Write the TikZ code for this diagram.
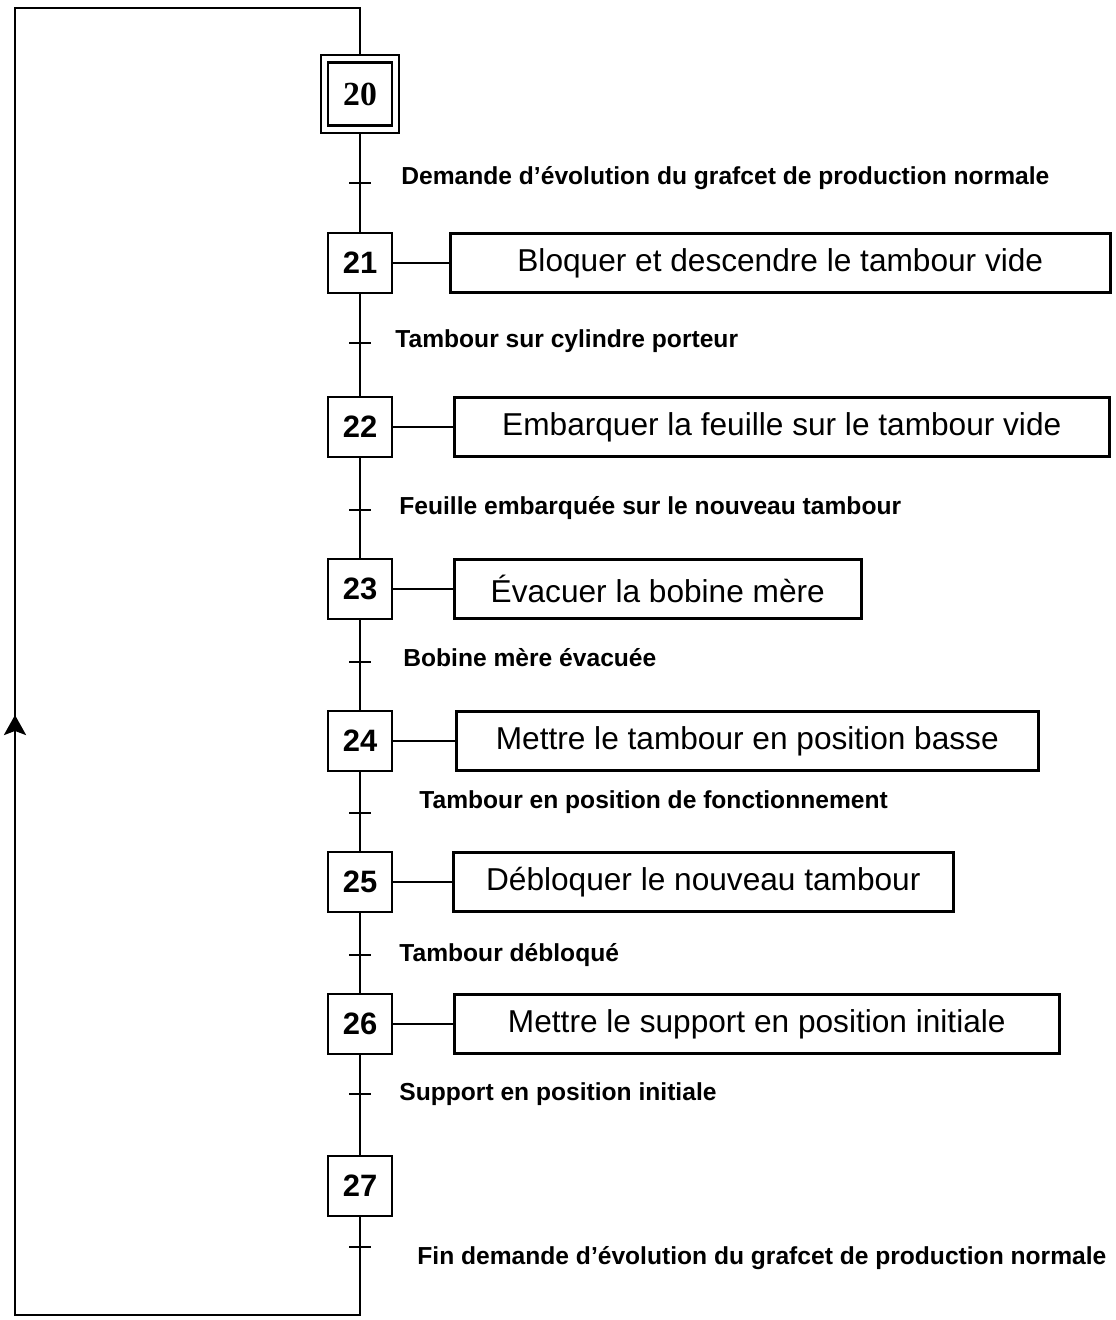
\documentclass[tikz,border=0pt]{standalone}
\usepackage{fontspec}
\setmainfont{Liberation Sans}
\newfontfamily\timesnum{Liberation Serif}
\usetikzlibrary{arrows.meta}

\tikzset{
  etape/.style={draw,line width=2pt,minimum width=1.6cm,minimum height=1.5cm,inner sep=0pt,font=\fontsize{22}{24}\selectfont\bfseries},
  action/.style={draw,line width=1.8pt,minimum height=1.48cm,inner sep=0pt,anchor=west,font=\fontsize{22.5}{25}\selectfont},
  recept/.style={anchor=west,inner sep=0pt,font=\fontsize{17.5}{19}\selectfont\bfseries}
}

\begin{document}
\begin{tikzpicture}[line width=2pt,>={Stealth[length=5mm,width=5.5mm,inset=1mm]}]
\useasboundingbox (0,0) rectangle (27.875,33);
% etapes
\node[etape,minimum width=1.6cm,minimum height=1.58cm,font=\fontsize{24}{26}\selectfont\timesnum\bfseries] (s20) at (9,30.65) {20};
\node[draw,line width=1.2pt,minimum size=1.95cm] (s20o) at (9,30.65) {};
\node[etape] (s21) at (9,26.425) {21};
\node[etape] (s22) at (9,22.325) {22};
\node[etape] (s23) at (9,18.275) {23};
\node[etape] (s24) at (9,14.475) {24};
\node[etape] (s25) at (9,10.95) {25};
\node[etape] (s26) at (9,7.4) {26};
\node[etape] (s27) at (9,3.35) {27};
% actions
\node[action,minimum width=16.5cm] (a21) at (11.225,26.425) {Bloquer et descendre le tambour vide};
\node[action,minimum width=16.375cm] (a22) at (11.325,22.325) {Embarquer la feuille sur le tambour vide};
\node[action,minimum width=10.175cm] (a23) at (11.325,18.275) {Évacuer la bobine mère};
\node[action,minimum width=14.55cm] (a24) at (11.375,14.475) {Mettre le tambour en position basse};
\node[action,minimum width=12.5cm] (a25) at (11.3,10.95) {Débloquer le nouveau tambour};
\node[action,minimum width=15.125cm] (a26) at (11.325,7.4) {Mettre le support en position initiale};
\draw (s21) -- (a21);
\draw (s22) -- (a22);
\draw (s23) -- (a23);
\draw (s24) -- (a24);
\draw (s25) -- (a25);
\draw (s26) -- (a26);
% liaisons
\draw (s20o) -- (s21) -- (s22) -- (s23) -- (s24) -- (s25) -- (s26) -- (s27);
\coordinate (br) at (9,0.125);
\coordinate (bl) at (0.375,0.125);
\coordinate (fl) at (0.375,15.125);
\coordinate (tl) at (0.375,32.8);
\coordinate (tr) at (9,32.8);
\draw (s27) -- (br) -- (bl) -- (tl) -- (tr) -- (s20o);
\draw[->] (bl) -- (fl);
% transitions
\foreach \y in {28.425,24.425,20.25,16.45,12.675,9.125,5.65,1.825}
  \draw (8.725,\y) -- (9.275,\y);
\node[recept] (r1) at (10.0,28.55) {Demande d’évolution du grafcet de production normale};
\node[recept] (r2) at (9.85,24.475) {Tambour sur cylindre porteur};
\node[recept] (r3) at (9.95,20.3) {Feuille embarquée sur le nouveau tambour};
\node[recept] (r4) at (10.05,16.55) {Bobine mère évacuée};
\node[recept] (r5) at (10.45,12.95) {Tambour en position de fonctionnement};
\node[recept] (r6) at (9.95,9.125) {Tambour débloqué};
\node[recept] (r7) at (9.95,5.65) {Support en position initiale};
\node[recept] (r8) at (10.4,1.55) {Fin demande d’évolution du grafcet de production normale};
\end{tikzpicture}
\end{document}
